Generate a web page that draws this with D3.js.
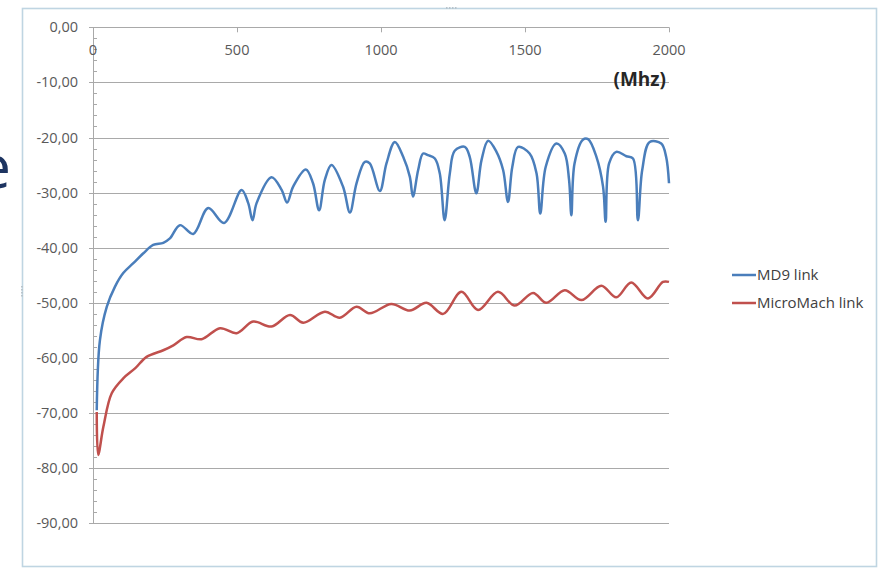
<!DOCTYPE html>
<html>
<head>
<meta charset="utf-8">
<script src="https://cdn.jsdelivr.net/npm/d3@7"></script>
<style>
  html, body { margin: 0; padding: 0; background: #ffffff; }
  svg { display: block; }
</style>
</head>
<body>
<svg id="chart" width="881" height="568"></svg>
<script>
// ---- data ----
const seriesNames = ["MD9 link", "MicroMach link"];
const seriesColors = ["#4a7ebb", "#c0504d"];

const md9Freq = [13, 24, 48, 76, 105, 140, 175, 209, 244, 267, 302, 348, 400, 455, 516, 539, 554, 568, 620, 655, 674, 695, 739, 764, 785, 805, 828, 868, 892, 915, 944, 961, 996, 1019, 1048, 1077, 1100, 1111, 1129, 1146, 1163, 1187, 1204, 1221, 1239, 1256, 1291, 1308, 1331, 1349, 1372, 1401, 1424, 1441, 1456, 1476, 1516, 1540, 1553, 1572, 1609, 1638, 1653, 1661, 1672, 1701, 1719, 1748, 1771, 1780, 1792, 1817, 1852, 1875, 1892, 1907, 1933, 1973, 1990, 2000];
const md9Values = [-69.5, -56.8, -50.7, -47.1, -44.6, -42.8, -41.0, -39.5, -39.1, -38.3, -35.9, -37.5, -32.8, -35.5, -29.5, -31.9, -35.0, -31.9, -27.2, -29.5, -31.8, -28.9, -25.8, -28.3, -33.2, -27.7, -25.0, -28.9, -33.6, -28.3, -24.4, -24.7, -29.7, -24.7, -20.8, -23.5, -27.1, -30.7, -25.9, -22.9, -23.2, -23.8, -26.5, -35.0, -26.5, -22.4, -21.7, -23.5, -30.1, -24.1, -20.6, -22.6, -25.9, -31.7, -25.3, -21.7, -22.9, -26.5, -33.8, -25.3, -21.1, -22.9, -27.7, -34.1, -24.7, -20.4, -20.3, -23.5, -28.9, -35.3, -24.7, -22.6, -23.4, -23.8, -35.0, -25.9, -20.8, -21.1, -23.5, -28.3];

const microFreq = [13, 18, 36, 65, 105, 146, 186, 244, 279, 325, 377, 441, 499, 556, 620, 684, 730, 805, 857, 915, 961, 1036, 1100, 1158, 1216, 1279, 1337, 1406, 1464, 1528, 1574, 1638, 1696, 1765, 1817, 1869, 1927, 1979, 2000];
const microValues = [-69.8, -77.6, -72.5, -66.4, -63.7, -61.9, -59.8, -58.6, -57.7, -56.2, -56.6, -54.6, -55.5, -53.4, -54.3, -52.2, -53.6, -51.6, -52.7, -50.7, -51.9, -50.2, -51.4, -50.0, -52.0, -48.0, -51.3, -48.0, -50.5, -48.2, -50.0, -47.7, -49.5, -46.9, -49.0, -46.3, -49.2, -46.2, -46.2];

const xTicks = [0, 500, 1000, 1500, 2000];
const yTicks = [0, -10, -20, -30, -40, -50, -60, -70, -80, -90];
const yMinorTicks = d3.range(0, -90.1, -2);
const yTickLabels = ["0,00", "-10,00", "-20,00", "-30,00", "-40,00", "-50,00", "-60,00", "-70,00", "-80,00", "-90,00"];
const xUnitLabel = "(Mhz)";

// ---- layout ----
const svg = d3.select("#chart");
const font = "'Open Sans', Lato, sans-serif";

const x = d3.scaleLinear().domain([0, 2000]).range([93, 669]);
const y = d3.scaleLinear().domain([0, -90]).range([27.3, 523.3]);

// partial text from behind the chart
svg.append("text")
  .attr("x", 11).attr("y", 188)
  .attr("text-anchor", "end")
  .attr("font-family", "'Open Sans', sans-serif")
  .attr("font-size", 60)
  .attr("fill", "#1d3461")
  .text("e");

// chart frame
svg.append("rect")
  .attr("x", 22.5).attr("y", 8.5).attr("width", 854).attr("height", 558)
  .attr("fill", "#ffffff").attr("stroke", "#bfd5e2").attr("stroke-width", 1.6);

// handles
svg.append("g").selectAll("rect")
  .data([[446, 7], [449, 7], [452, 7], [455, 7]])
  .join("rect")
  .attr("x", d => d[0]).attr("y", d => d[1]).attr("width", 1.5).attr("height", 2)
  .attr("fill", "#b8c4cc");
svg.append("g").selectAll("rect")
  .data([[21, 286], [21, 289], [21, 292], [21, 295]])
  .join("rect")
  .attr("x", d => d[0]).attr("y", d => d[1]).attr("width", 2).attr("height", 1.5)
  .attr("fill", "#b8c4cc");

// gridlines
svg.append("g").selectAll("line")
  .data(yTicks.filter(d => d !== 0))
  .join("line")
  .attr("x1", 89).attr("x2", x(2000))
  .attr("y1", d => Math.round(y(d)) + 0.5).attr("y2", d => Math.round(y(d)) + 0.5)
  .attr("stroke", "#a9a9a9").attr("stroke-width", 1);

// y axis minor ticks (inside)
svg.append("g").selectAll("line")
  .data(yMinorTicks.filter(d => d % 10 !== 0))
  .join("line")
  .attr("x1", 93).attr("x2", 97)
  .attr("y1", d => Math.round(y(d)) + 0.5).attr("y2", d => Math.round(y(d)) + 0.5)
  .attr("stroke", "#a9a9a9").attr("stroke-width", 1);

// y axis line
svg.append("line")
  .attr("x1", 93.5).attr("x2", 93.5).attr("y1", y(0)).attr("y2", y(-90))
  .attr("stroke", "#a9a9a9").attr("stroke-width", 1);

// x axis line (at 0)
svg.append("line")
  .attr("x1", 89).attr("x2", x(2000))
  .attr("y1", Math.round(y(0)) + 0.5).attr("y2", Math.round(y(0)) + 0.5)
  .attr("stroke", "#a9a9a9").attr("stroke-width", 1);

// x ticks
svg.append("g").selectAll("line")
  .data(xTicks)
  .join("line")
  .attr("x1", d => Math.round(x(d)) + 0.5).attr("x2", d => Math.round(x(d)) + 0.5)
  .attr("y1", y(0)).attr("y2", y(0) + 5)
  .attr("stroke", "#a9a9a9").attr("stroke-width", 1);

// y tick labels
svg.append("g").selectAll("text")
  .data(yTicks)
  .join("text")
  .attr("x", 78).attr("y", d => y(d) + 5)
  .attr("text-anchor", "end")
  .attr("font-family", font).attr("font-size", 14.5)
  .attr("fill", "#595959")
  .text((d, i) => yTickLabels[i]);

// x tick labels
svg.append("g").selectAll("text")
  .data(xTicks)
  .join("text")
  .attr("x", d => x(d)).attr("y", 55)
  .attr("text-anchor", "middle")
  .attr("font-family", font).attr("font-size", 14.5)
  .attr("fill", "#595959")
  .text(d => d);

// unit label
svg.append("text")
  .attr("x", 666).attr("y", 86)
  .attr("text-anchor", "end")
  .attr("font-family", font).attr("font-size", 19).attr("font-weight", "bold")
  .attr("fill", "#262626")
  .text(xUnitLabel);

// lines
const line = d3.line()
  .x(d => x(d[0])).y(d => y(d[1]))
  .curve(d3.curveCatmullRom.alpha(0.5));

const series = [
  d3.zip(md9Freq, md9Values),
  d3.zip(microFreq, microValues)
];

svg.append("g").selectAll("path")
  .data(series)
  .join("path")
  .attr("d", line)
  .attr("fill", "none")
  .attr("stroke", (d, i) => seriesColors[i])
  .attr("stroke-width", 2.5)
  .attr("stroke-linejoin", "round");

// legend
const legend = svg.append("g").selectAll("g")
  .data(seriesNames)
  .join("g")
  .attr("transform", (d, i) => `translate(0, ${275 + i * 28})`);
legend.append("line")
  .attr("x1", 732).attr("x2", 756).attr("y1", 0).attr("y2", 0)
  .attr("stroke", (d, i) => seriesColors[i]).attr("stroke-width", 2.5);
legend.append("text")
  .attr("x", 757).attr("y", 5)
  .attr("font-family", font).attr("font-size", 15)
  .attr("fill", "#404040")
  .text(d => d);
</script>
</body>
</html>
